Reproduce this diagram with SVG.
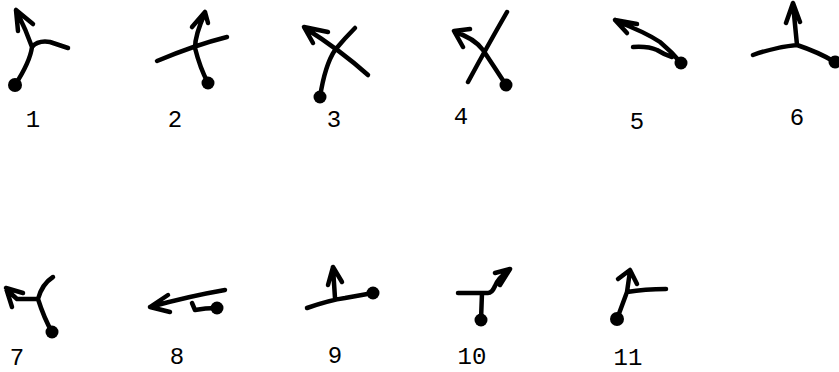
<svg xmlns="http://www.w3.org/2000/svg" width="839" height="372" viewBox="0 0 839 372">
<style>
.s{fill:none;stroke:#000;stroke-width:4.5;stroke-linecap:round;stroke-linejoin:round}
.d{fill:#000}
.t{font-family:"Liberation Mono",monospace;font-size:24px;fill:#000;text-anchor:middle}
</style>
<rect width="839" height="372" fill="#fff"/>
<g id="g1">
<path class="s" d="M16,10 L18,31 M16,10 L33,24 M17,12 Q26,30 32,47 Q30,62 15,85 M32,47 Q38,40 50,42 L68,48"/>
<circle class="d" cx="15" cy="85" r="7"/>
<text class="t" x="33" y="127">1</text>
</g>
<g id="g2">
<path class="s" d="M205,12 L192,27 M205,12 L208,23 M205,13 Q195,35 195,48 Q200,68 208,83 M157,61 Q195,45 227,37"/>
<circle class="d" cx="208" cy="83" r="6.5"/>
<text class="t" x="175" y="127">2</text>
</g>
<g id="g3">
<path class="s" d="M304,27 L328,32 M304,27 L313,43 M305,28 Q340,50 368,75 M320,97 Q325,65 335,50 Q345,38 355,28"/>
<circle class="d" cx="320" cy="97" r="6.5"/>
<text class="t" x="334" y="127">3</text>
</g>
<g id="g4">
<path class="s" d="M468,82 Q488,45 507,12 M454,31 L470,29 M454,31 L463,47 M455,32 Q474,38 483,50 Q495,68 506,85"/>
<circle class="d" cx="506" cy="85" r="6.5"/>
<text class="t" x="461" y="124">4</text>
</g>
<g id="g5">
<path class="s" d="M615,20 L637,24 M615,20 L627,33 M616,21 Q645,32 660,42 Q672,52 681,63 M633,47 Q648,46 657,50 Q665,55 672,57"/>
<circle class="d" cx="681" cy="63" r="6.5"/>
<text class="t" x="637" y="129">5</text>
</g>
<g id="g6">
<path class="s" d="M793,3 L786,23 M793,3 L800,22 M793,4 L797,45 M753,55 Q775,47 797,45 Q818,52 835,62"/>
<circle class="d" cx="835" cy="62" r="6.5"/>
<text class="t" x="797" y="125">6</text>
</g>
<g id="g7">
<path class="s" d="M6,288 L23,293 M6,288 L12,307 M7,290 L17,299 L38,299 M53,277 Q42,284 38,299 Q44,318 52,332"/>
<circle class="d" cx="52" cy="332" r="6.5"/>
<text class="t" x="17" y="365">7</text>
</g>
<g id="g8">
<path class="s" d="M150,307 L168,295 M150,307 L170,312 M150,307 Q190,296 225,290 M192,303 L195,310 Q205,308 217,308"/>
<circle class="d" cx="217" cy="308" r="6.5"/>
<text class="t" x="177" y="364">8</text>
</g>
<g id="g9">
<path class="s" d="M333,267 L328,285 M333,267 L342,282 M333,268 L335,298 M307,308 Q330,300 345,298 L373,293"/>
<circle class="d" cx="373" cy="293" r="6.5"/>
<text class="t" x="335" y="363">9</text>
</g>
<g id="g10">
<path class="s" d="M510,269 L495,273 M510,269 L500,285 M509,270 Q498,278 495,286 Q492,293 488,293 L458,293 M482,293 L481,320"/>
<circle class="d" cx="481" cy="320" r="6.5"/>
<text class="t" x="472" y="364">10</text>
</g>
<g id="g11">
<path class="s" d="M630,270 L618,279 M630,270 L637,284 M630,271 L627,292 L617,319 M627,292 Q645,289 666,289"/>
<circle class="d" cx="617" cy="319" r="7"/>
<text class="t" x="628" y="365">11</text>
</g>
</svg>
